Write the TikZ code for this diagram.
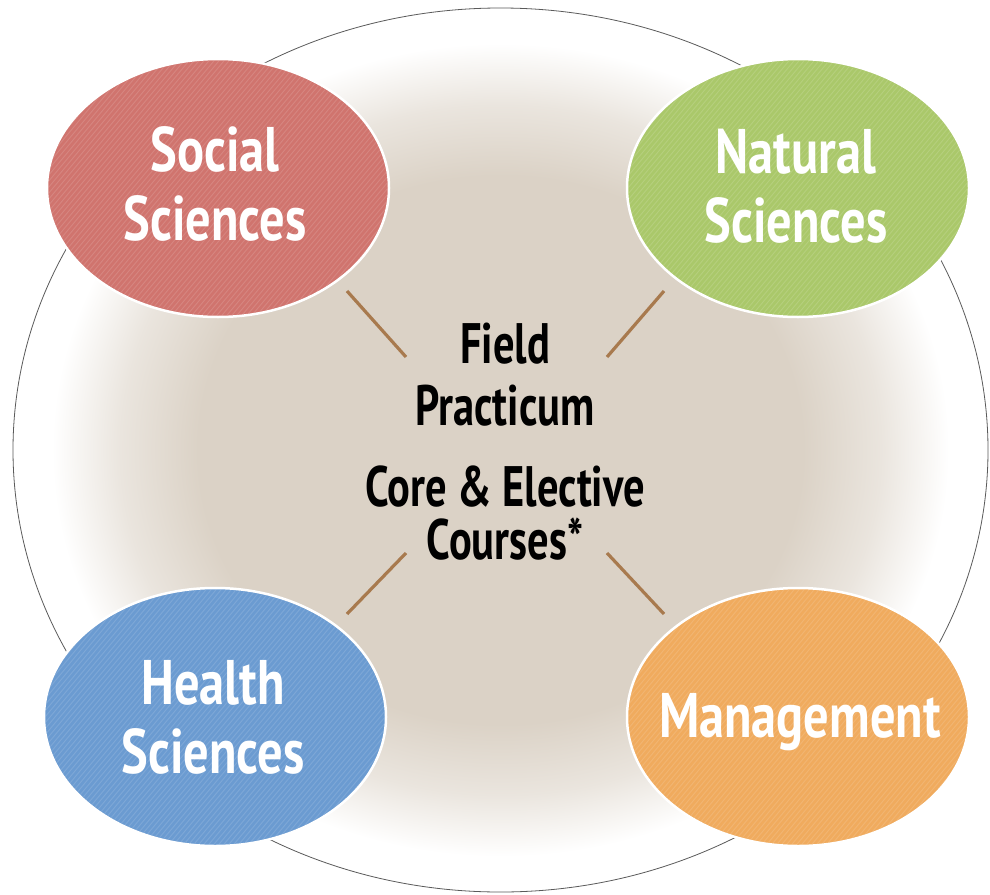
\documentclass[tikz,border=0pt]{standalone}
\usepackage{fontspec}
\setmainfont{PT Sans}[FakeStretch=0.80]
\newfontfamily\centerfont{PT Sans}[FakeStretch=0.745]
\usetikzlibrary{shapes.geometric}
\definecolor{bgc}{RGB}{219,210,198}
\definecolor{socialc}{RGB}{208,116,110}
\definecolor{naturalc}{RGB}{170,200,106}
\definecolor{healthc}{RGB}{107,155,209}
\definecolor{mgmtc}{RGB}{240,171,94}
\definecolor{linkc}{RGB}{168,122,78}
\definecolor{rimc}{RGB}{90,90,90}
\pgfdeclareradialshading{bgshade}{\pgfpoint{0bp}{0bp}}{%
  color(0bp)=(bgc); color(15.5bp)=(bgc); color(19.5bp)=(bgc!58!white);
  color(23bp)=(white); color(25bp)=(white); color(50bp)=(white)}
\begin{document}
\begin{tikzpicture}[x=1pt,y=-1pt,
  field/.style={ellipse, draw=white, line width=2.5pt, minimum width=342pt,
    minimum height=258pt, inner sep=0pt},
  fieldtext/.style={align=center, text=white, inner sep=0pt, anchor=base,
    font=\fontsize{63}{69}\selectfont\bfseries},
  centertext/.style={text=black, inner sep=0pt, anchor=base,
    font=\centerfont\fontsize{57}{62}\selectfont\bfseries},
  link/.style={draw=linkc, line width=3.2pt},
  stripe/.style={draw=white, opacity=0.13, line width=0.9pt}]
\useasboundingbox (0,0) rectangle (990,894);
\fill[white] (0,0) rectangle (990,894);
\shade[shading=bgshade] (500.5,450) ellipse [x radius=487.5, y radius=442];
\draw[rimc, line width=0.8pt] (500.5,450) ellipse [x radius=487.5, y radius=442];
\node[field, fill=socialc] (social) at (218,188) {};
\node[field, fill=naturalc] (natural) at (798,188) {};
\node[field, fill=healthc] (health) at (215,717) {};
\node[field, fill=mgmtc] (mgmt) at (798,717) {};
\foreach \n in {social,natural,health,mgmt}{
  \begin{scope}[shift={(\n.center)}]
    \clip (0,0) ellipse [x radius=169.5, y radius=127.5];
    \foreach \i in {-58,...,58}
      \draw[stripe] (\i*5-150,180) -- (\i*5+150,-180);
  \end{scope}
}
\node[fieldtext] (socialt) at (215,240) {Social\\Sciences};
\node[fieldtext] (naturalt) at (796,242) {Natural\\Sciences};
\node[fieldtext] (healtht) at (213,773) {Health\\Sciences};
\node[fieldtext] (mgmtt) at (800,737) {Management};
\node[centertext] (field) at (505,363) {Field};
\node[centertext] (practicum) at (505,425) {Practicum};
\node[centertext] (core) at (505,506) {Core \& Elective};
\node[centertext] (courses) at (505,559) {Courses*};
\coordinate (tla) at (347,291); \coordinate (tlb) at (406,357);
\coordinate (tra) at (664,291); \coordinate (trb) at (607,357);
\coordinate (bla) at (406,553); \coordinate (blb) at (347,614);
\coordinate (bra) at (607,553); \coordinate (brb) at (664,614);
\draw[link] (tla) -- (tlb);
\draw[link] (tra) -- (trb);
\draw[link] (bla) -- (blb);
\draw[link] (bra) -- (brb);
\end{tikzpicture}
\end{document}
